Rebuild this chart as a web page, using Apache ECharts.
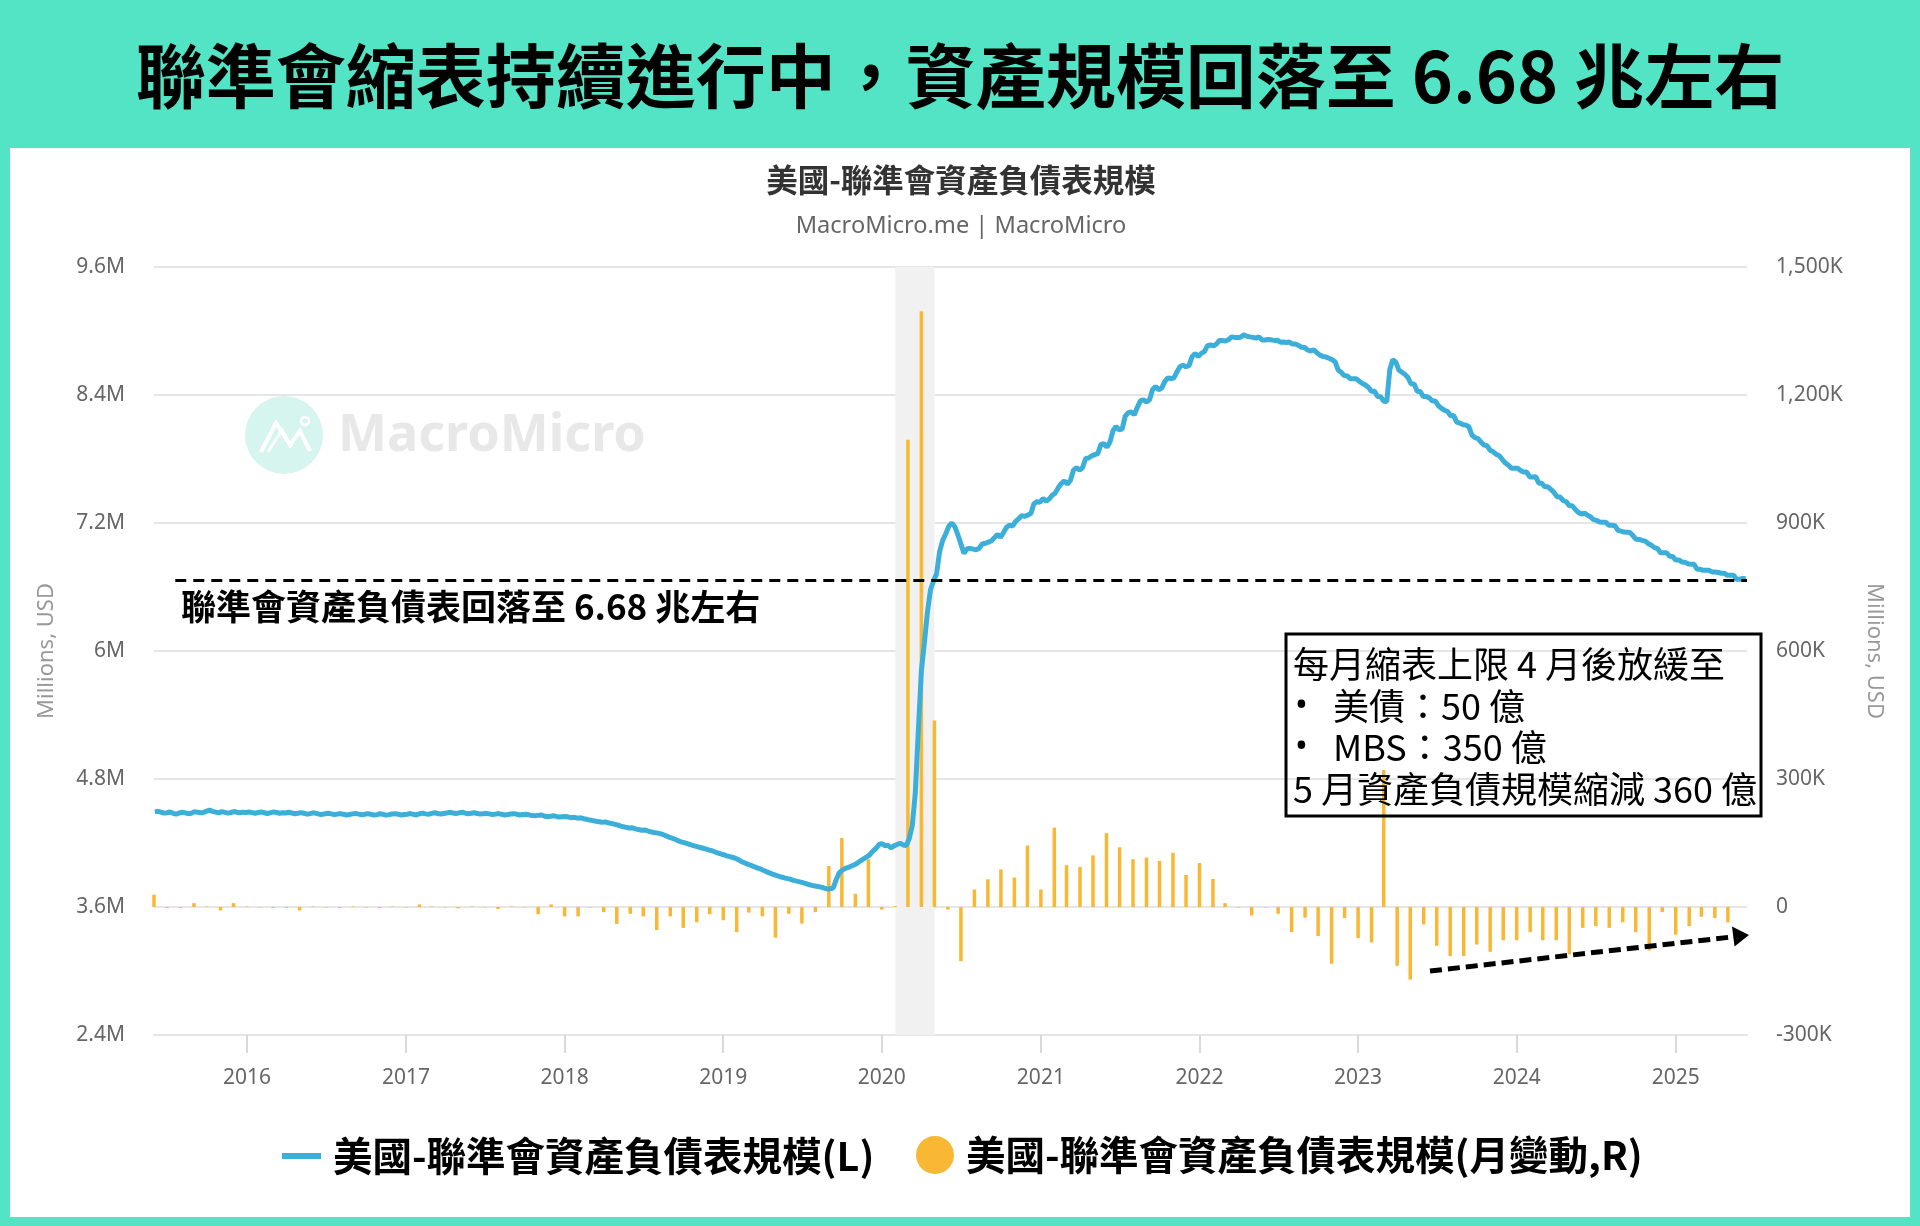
<!DOCTYPE html>
<html><head><meta charset="utf-8">
<script src="https://cdn.jsdelivr.net/npm/echarts@6/dist/echarts.min.js"></script>
<style>
html,body{margin:0;padding:0;width:1920px;height:1226px;overflow:hidden;background:#52E4C4;}
#panel{position:absolute;left:10px;top:148px;width:1900px;height:1069px;background:#fff;}
#chart{position:absolute;left:0;top:0;width:1920px;height:1226px;}
</style></head><body>
<div id="panel"></div><div id="chart"></div>
<script>
// Fed total assets, weekly (Wednesdays from 2015-06-03), billions USD (= K of Millions)
const assets2015 = [4492,4497,4489,4480, 4484,4491,4478,4470,4481, 4488,4482,4475,4479, 4494,4489,4483,4487,4499, 4508,4497,4489,4482, 4494,4487,4480,4486, 4495,4488,4483,4489,4486];
const assets2016 = [4491,4485,4479,4486, 4490,4484,4477,4483, 4492,4486,4479,4484,4481, 4488,4481,4474,4479, 4485,4479,4471,4475, 4483,4478,4470,4468,4474, 4479,4473,4466,4471, 4476,4469,4463,4467,4473, 4478,4471,4465,4469, 4475,4469,4462,4466, 4474,4469,4461,4466,4472, 4475,4469,4463,4467];
const assets2017 = [4470,4476,4469,4463, 4474,4480,4473,4469, 4478,4484,4477,4472,4477, 4482,4488,4481,4476, 4483,4488,4480,4475,4479, 4484,4477,4471,4475, 4478,4473,4466,4471, 4476,4469,4463,4467,4472, 4475,4469,4463,4467, 4470,4464,4458,4455, 4459,4463,4453,4446,4450, 4456,4449,4443,4447];
const assets2018 = [4448,4443,4437,4441,4433, 4436,4428,4422,4415, 4410,4404,4400,4395, 4398,4390,4384,4377, 4370,4360,4352,4346,4340, 4342,4333,4326,4320, 4322,4313,4305,4298, 4295,4288,4280,4268,4255, 4246,4235,4222,4210, 4203,4194,4186,4176,4168, 4160,4153,4145,4136, 4128,4118,4108,4098];
const assets2019 = [4090,4080,4072,4064,4055, 4040,4025,4012,4000, 3990,3978,3967,3958, 3945,3932,3920,3908, 3898,3890,3881,3873,3866, 3860,3850,3842,3835, 3828,3820,3811,3803,3797, 3792,3786,3778,3769, 3771,3778,3856,3921, 3946,3962,3971,3984,3996, 4012,4033,4051,4069, 4088,4121,4147,4184];
const assets2020 = [4195,4175,4178,4155,4173, 4186,4198,4182,4177, 4241,4362,4670,5253, 5814,6083,6368,6574,6656, 6724,6934,7037,7097, 7169,7200,7165,7088, 7004,6915,6958,6962,6955, 6948,6963,7003,7010, 7020,7031,7061,7093,7066, 7110,7160,7180,7172, 7215,7240,7270,7262, 7275,7290,7380,7400,7395];
const assets2021 = [7430,7405,7425,7460, 7480,7530,7570,7595, 7565,7600,7695,7720,7695, 7720,7805,7810,7830, 7840,7850,7935,7945, 7910,7960,8065,8105,8075, 8080,8200,8235,8240, 8215,8285,8345,8355, 8335,8355,8450,8480,8450, 8465,8525,8560,8555, 8560,8615,8665,8680, 8665,8675,8760,8790,8760];
const assets2022 = [8790,8805,8860,8870, 8860,8878,8912,8912, 8905,8920,8945,8940,8940, 8942,8966,8950,8945, 8940,8933,8945,8915, 8915,8920,8917,8912,8914, 8895,8897,8892,8896, 8877,8878,8864,8848,8845, 8822,8812,8824,8797, 8774,8762,8757,8744, 8732,8712,8635,8613,8582, 8579,8552,8553,8552];
const assets2023 = [8527,8508,8493,8471, 8434,8434,8386,8383, 8342,8339,8639,8733,8706, 8632,8614,8593,8562, 8503,8504,8436,8433,8386, 8385,8373,8343,8343, 8298,8274,8257,8245, 8206,8207,8146,8137,8122, 8118,8102,8025,8000, 7991,7958,7930,7924, 7881,7867,7843,7831,7795, 7762,7741,7713,7713];
const assets2024 = [7713,7692,7677,7677,7631, 7632,7633,7573,7572, 7539,7539,7514,7485, 7447,7443,7409,7401, 7362,7362,7327,7299,7284, 7293,7273,7259,7231, 7224,7209,7208,7207,7178, 7178,7175,7131,7123, 7115,7114,7110,7080, 7047,7046,7037,7030,7006, 6991,6969,6960,6922, 6920,6920,6889,6886];
const assets2025 = [6853,6854,6835,6833,6818, 6814,6813,6766,6766, 6757,6757,6756,6740, 6740,6736,6729,6728,6709, 6710,6711,6673,6673, 6680,6677];

// Monthly change, billions USD, one per month from 2015-06
const change2015 = [29,-2,-2,9,1,-8,9];
const change2016 = [1,-1,-2,-2,-8,1,-1,-2,1,-1,-2,1];
const change2017 = [-1,6,1,-1,-3,1,-1,-5,1,-1,-17,6];
const change2018 = [-22,-22,-1,-12,-40,-16,-22,-54,-22,-49,-36,-17];
const change2019 = [-31,-59,-13,-22,-72,-16,-39,-12,96,162,31,112];
const change2020 = [-6,2,1095,1396,437,-6,-127,41,65,88,69,144];
const change2021 = [41,186,98,94,121,173,140,112,116,108,127,75];
const change2022 = [103,66,9,-1,-20,-1,-16,-59,-25,-68,-133,-26];
const change2023 = [-73,-83,321,-138,-170,-41,-91,-115,-115,-88,-105,-78];
const change2024 = [-78,-59,-78,-78,-111,-49,-45,-49,-36,-59,-102,-12];
const change2025 = [-65,-45,-23,-26,-36];

const yearLabels = ['2016','2017','2018','2019','2020','2021','2022','2023','2024','2025'];
const recession = [[2020,1,1],[2020,4,1]];
const refLevel = 6660;
const seriesNames = ['美國-聯準會資產負債表規模(L)','美國-聯準會資產負債表規模(月變動,R)'];

const assetsAll = [].concat(assets2015,assets2016,assets2017,assets2018,assets2019,assets2020,assets2021,assets2022,assets2023,assets2024,assets2025);
const lineData = assetsAll.map((v,i)=>[new Date(2015,5,3+7*i).getTime(), v]);
const changeAll = [].concat(change2015,change2016,change2017,change2018,change2019,change2020,change2021,change2022,change2023,change2024,change2025);
const barData = changeAll.map((v,i)=>[new Date(2015,5+i,1).getTime(), v]);
const yearTicks = yearLabels.map(y=>new Date(+y,0,1).getTime());

const CJK = "'Noto Sans CJK TC','Noto Sans',sans-serif";
const LAT = "'Noto Sans','Open Sans',sans-serif";
function T(x,y,text,size,weight,color,align,family,rot){
  return {type:'text', x:x, y:y, rotation:rot||0, z:50, silent:true,
    style:{text:text, fontSize:size, fontWeight:weight, fontFamily:family||CJK, fill:color,
      textAlign:align||'left', verticalAlign:'middle'}};
}

const chart = echarts.init(document.getElementById('chart'), null, {renderer:'canvas'});
chart.setOption({
  animation:false,
  backgroundColor:'transparent',
  textStyle:{fontFamily:LAT},
  grid:{left:154, right:173, top:267, bottom:191, containLabel:false},
  xAxis:{type:'value', min:new Date(2015,5,1).getTime(), max:new Date(2025,5,14).getTime(),
    axisLine:{show:true, onZero:false, lineStyle:{color:'#e6e6e6', width:2}},
    axisTick:{show:true, length:18, customValues:yearTicks, lineStyle:{color:'#d9d9d9', width:2}},
    axisLabel:{customValues:yearTicks, margin:33, fontSize:21, color:'#666', fontFamily:LAT,
      formatter:function(v){return String(new Date(v).getFullYear());}},
    splitLine:{show:false}},
  yAxis:[
    {type:'value', min:2400, max:9600, interval:1200, position:'left',
     axisLine:{show:false}, axisTick:{show:false},
     splitLine:{show:true, lineStyle:{color:'#e6e6e6', width:2}},
     axisLabel:{margin:29, fontSize:21, color:'#666', fontFamily:LAT,
       formatter:function(v){return (+(v/1000).toFixed(1))+'M';}}},
    {type:'value', min:-300, max:1500, interval:300, position:'right',
     axisLine:{show:false}, axisTick:{show:false}, splitLine:{show:false},
     axisLabel:{margin:29, fontSize:21, color:'#666', fontFamily:LAT,
       formatter:function(v){return v===0?'0':v.toLocaleString('en-US')+'K';}}}
  ],
  legend:[
    {data:[{name:seriesNames[0], icon:'rect'}], left:282, top:1135, itemWidth:39, itemHeight:6,
     padding:0, textStyle:{fontSize:39.5, fontWeight:'bold', color:'#000', fontFamily:CJK, lineHeight:42, padding:[0,0,0,7]}},
    {data:[{name:seriesNames[1], icon:'circle'}], left:916, top:1134, itemWidth:38, itemHeight:38,
     padding:0, textStyle:{fontSize:39.5, fontWeight:'bold', color:'#000', fontFamily:CJK, lineHeight:42, padding:[0,0,0,7]}}
  ],
  series:[
    {name:seriesNames[1], type:'bar', yAxisIndex:1, data:barData, barWidth:3.5, z:2,
     itemStyle:{color:'#F8B833'},
     markArea:{silent:true, itemStyle:{color:'#f1f1f1'},
       data:[[{xAxis:new Date(recession[0][0],recession[0][1],recession[0][2]).getTime()},{xAxis:new Date(recession[1][0],recession[1][1],recession[1][2]).getTime()}]]}},
    {name:seriesNames[0], type:'line', yAxisIndex:0, data:lineData, showSymbol:false, symbol:'none', z:3,
     lineStyle:{color:'#3BAFDA', width:5}, itemStyle:{color:'#3BAFDA'},
     markLine:{silent:true, symbol:['none','none'], label:{show:false}, z:10,
       lineStyle:{color:'#000', type:[11,7], width:3},
       data:[[{coord:[new Date(2015,6,20).getTime(), refLevel]},{coord:[new Date(2025,5,14).getTime(), refLevel]}]]}}
  ],
  graphic:[
    T(960,76,'聯準會縮表持續進行中，資產規模回落至 6.68 兆左右',70,'bold','#000','center'),
    T(961,180,'美國-聯準會資產負債表規模',31.5,'bold','#333','center'),
    T(961,226,'MacroMicro.me | MacroMicro',23.6,'normal','#666','center',LAT),
    {type:'circle', shape:{cx:284, cy:435, r:39}, style:{fill:'#d6f5ee'}, z:1, silent:true},
    {type:'polyline', shape:{points:[[261,452],[276,423],[290,445],[300,431],[310,451]]}, style:{stroke:'#fff', lineWidth:4, fill:null}, z:1, silent:true},
    {type:'polyline', shape:{points:[[268,452],[282,430],[292,447]]}, style:{stroke:'#fff', lineWidth:3, fill:null}, z:1, silent:true},
    {type:'circle', shape:{cx:305, cy:421, r:4}, style:{stroke:'#fff', lineWidth:2.5, fill:null}, z:1, silent:true},
    {type:'text', x:338, y:436, z:1, silent:true, style:{text:'MacroMicro', fontSize:52, fontWeight:'bold', fontFamily:LAT, fill:'#e8e8e8', textAlign:'left', verticalAlign:'middle'}},
    T(47,651,'Millions, USD',22,'normal','#999','center',LAT,Math.PI/2),
    T(1874,651,'Millions, USD',22,'normal','#999','center',LAT,-Math.PI/2),
    T(181,607,'聯準會資產負債表回落至 6.68 兆左右',35,'bold','#000','left'),
    {type:'rect', shape:{x:1286, y:634, width:475, height:182}, style:{fill:null, stroke:'#000', lineWidth:3}, z:40, silent:true},
    T(1293,664,'每月縮表上限 4 月後放緩至',36,'normal','#000','left'),
    T(1295,706,'•',34,'normal','#000','left',LAT),
    T(1333,706,'美債：50 億',36,'normal','#000','left'),
    T(1295,747,'•',34,'normal','#000','left',LAT),
    T(1333,747,'MBS：350 億',36,'normal','#000','left'),
    T(1293,789,'5 月資產負債規模縮減 360 億',36,'normal','#000','left'),
    {type:'line', shape:{x1:1430, y1:971, x2:1736, y2:936.5}, style:{stroke:'#000', lineWidth:5, lineDash:[12,6]}, z:40, silent:true},
    {type:'polygon', shape:{points:[[1749,935],[1732,926.5],[1734.5,946.5]]}, style:{fill:'#000'}, z:40, silent:true}
  ]
});
</script></body></html>
